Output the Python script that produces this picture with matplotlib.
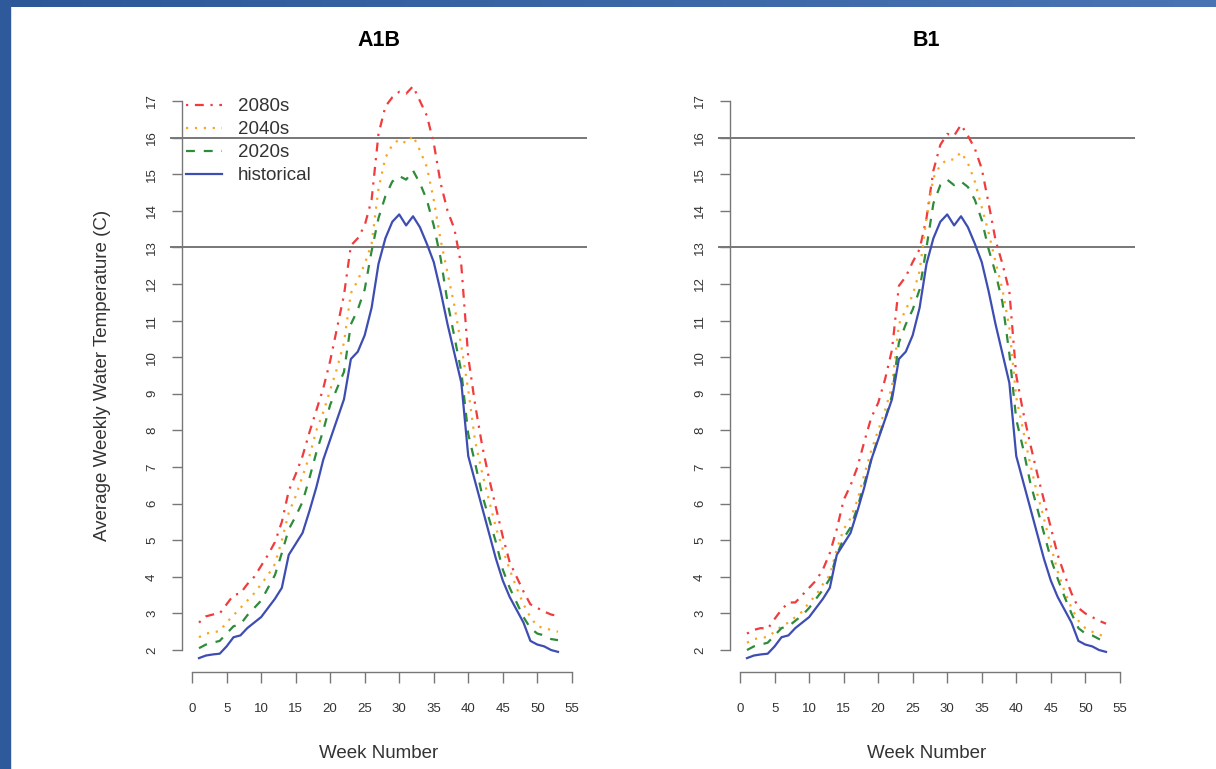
import matplotlib
matplotlib.use('Agg')
import matplotlib.pyplot as plt
from matplotlib.patches import Rectangle
import numpy as np

plt.rcParams['font.family'] = ['Liberation Sans', 'DejaVu Sans']

weeks = list(range(1, 54))

historical = [1.78, 1.85, 1.88, 1.9, 2.1, 2.35, 2.4, 2.6, 2.75, 2.9,
              3.15, 3.4, 3.7, 4.6, 4.9, 5.2, 5.8, 6.45, 7.2, 7.75,
              8.3, 8.85, 9.95, 10.15, 10.6, 11.35, 12.55, 13.25, 13.7, 13.9,
              13.6, 13.85, 13.55, 13.1, 12.6, 11.8, 10.9, 10.1, 9.3, 7.3,
              6.6, 5.9, 5.2, 4.5, 3.9, 3.45, 3.1, 2.75, 2.25, 2.15,
              2.1, 2.0, 1.95]

a1b_2020s = [2.05, 2.15, 2.2, 2.25, 2.45, 2.65, 2.7, 2.95, 3.15, 3.35,
             3.7, 4.05, 4.65, 5.3, 5.65, 6.05, 6.7, 7.4, 8.0, 8.7,
             9.15, 9.6, 10.9, 11.3, 11.85, 12.9, 13.8, 14.4, 14.8, 14.95,
             14.85, 15.1, 14.75, 14.3, 13.6, 12.7, 11.5, 10.55, 9.6, 7.9,
             7.1, 6.25, 5.6, 4.95, 4.2, 3.7, 3.3, 2.9, 2.6, 2.45,
             2.4, 2.3, 2.27]

a1b_2040s = [2.35, 2.45, 2.48, 2.52, 2.75, 2.95, 3.15, 3.35, 3.55, 3.8,
             4.05, 4.35, 5.0, 5.75, 6.2, 6.75, 7.3, 8.0, 8.5, 9.1,
             9.7, 10.4, 11.75, 12.1, 12.55, 13.1, 14.6, 15.45, 15.8, 15.95,
             15.85, 16.05, 15.65, 15.2, 14.3, 13.2, 12.3, 11.4, 10.3, 9.1,
             7.7, 6.85, 6.1, 5.35, 4.75, 4.2, 3.7, 3.25, 2.9, 2.65,
             2.6, 2.55, 2.5]

a1b_2080s = [2.75, 2.92, 2.97, 3.0, 3.25, 3.5, 3.55, 3.8, 4.0, 4.3,
             4.6, 4.95, 5.5, 6.35, 6.8, 7.3, 7.95, 8.55, 9.15, 9.9,
             10.8, 11.7, 13.05, 13.25, 13.6, 14.3, 16.1, 16.85, 17.1, 17.25,
             17.2, 17.4, 17.0, 16.6, 15.85, 14.75, 14.0, 13.5, 12.5, 10.0,
             8.7, 7.6, 6.7, 5.9, 5.1, 4.4, 4.0, 3.6, 3.25, 3.15,
             3.05, 2.97, 2.93]

b1_2020s = [2.0, 2.1, 2.15, 2.2, 2.4, 2.6, 2.65, 2.8, 2.95, 3.15,
            3.4, 3.65, 3.95, 4.6, 5.05, 5.35, 5.9, 6.55, 7.2, 7.8,
            8.3, 8.95, 10.4, 10.9, 11.3, 11.85, 13.0, 14.2, 14.7, 14.85,
            14.7, 14.8, 14.65, 14.3, 13.75, 12.95, 12.3, 11.5, 10.1, 8.3,
            7.5, 6.6, 5.9, 5.2, 4.5, 3.95, 3.45, 3.0, 2.6, 2.45,
            2.4, 2.3, 2.22]

b1_2040s = [2.2, 2.3, 2.33, 2.36, 2.5, 2.65, 2.75, 2.9, 3.05, 3.3,
            3.5, 3.8, 4.05, 4.75, 5.3, 5.6, 6.1, 6.8, 7.45, 8.0,
            8.55, 9.2, 10.9, 11.3, 11.7, 12.35, 13.8, 14.9, 15.25, 15.4,
            15.4, 15.6, 15.3, 14.8, 14.1, 13.4, 12.6, 11.85, 10.8, 8.9,
            8.0, 7.1, 6.3, 5.6, 4.85, 4.15, 3.6, 3.15, 2.8, 2.6,
            2.5, 2.42, 2.36]

b1_2080s = [2.45, 2.55, 2.6, 2.58, 2.85, 3.1, 3.3, 3.3, 3.5, 3.7,
            3.9, 4.2, 4.65, 5.3, 6.1, 6.5, 7.0, 7.7, 8.35, 8.75,
            9.4, 10.2, 11.95, 12.2, 12.6, 12.95, 13.8, 15.1, 15.8, 16.1,
            16.05, 16.35, 16.05, 15.7, 15.15, 14.2, 13.2, 12.55, 11.8, 9.5,
            8.5, 7.65, 6.85, 6.1, 5.35, 4.6, 4.05, 3.55, 3.15, 3.0,
            2.9, 2.8, 2.72]

thresholds = [13, 16]
x_ticks = list(range(0, 60, 5))
y_ticks = list(range(2, 18))

# label, colour, dash pattern (R lty 4, 3, 2, 1)
styles = [('2080s', '#f03c3c', (1, 3, 4, 3)),
          ('2040s', '#f7a623', (1, 3)),
          ('2020s', '#2e8b3a', (4, 4)),
          ('historical', '#3d4db2', None)]

W, H = 1216, 769
fig = plt.figure(figsize=(W / 100, H / 100), dpi=100)

# blue frame of the slide
grad = np.linspace(0, 1, 256).reshape(1, -1)
top = fig.add_axes([0, 1 - 7 / H, 1, 7 / H])
top.imshow(grad, aspect='auto', extent=(0, 1, 0, 1),
           cmap=matplotlib.colors.LinearSegmentedColormap.from_list('b', ['#2c5899', '#4a74b4']))
top.axis('off')
fig.add_artist(Rectangle((0, 0), 10 / W, 1, transform=fig.transFigure,
                         color='#2e5a9c', zorder=5))


def plot_panel(ax, title, series, legend=False):
    for (label, color, dash), values in zip(styles, series):
        line, = ax.plot(weeks, values, color=color, lw=1.6, label=label)
        if dash is not None:
            line.set_dashes(dash)
    for t in thresholds:
        ax.axhline(t, color='#606060', lw=1.2, zorder=0)

    ax.set_xlim(-3.2, 57.2)
    ax.set_ylim(1.4, 17.6)
    ax.set_xticks(x_ticks)
    ax.set_yticks(y_ticks)
    for s in ['top', 'right']:
        ax.spines[s].set_visible(False)
    ax.spines['left'].set_position(('data', -1.5))
    ax.spines['left'].set_bounds(2, 17)
    ax.spines['bottom'].set_bounds(0, 55)
    for s in ['left', 'bottom']:
        ax.spines[s].set_color('#777777')
        ax.spines[s].set_linewidth(1.0)
    ax.tick_params(axis='x', length=8, width=1, color='#777777', pad=14,
                   labelsize=9.5, labelcolor='#333333')
    ax.tick_params(axis='y', length=7, width=1, color='#777777', pad=10,
                   labelsize=9.5, labelcolor='#333333', labelrotation=90)
    for lab in ax.get_yticklabels():
        lab.set_verticalalignment('center')
    ax.set_title(title, fontsize=15.5, fontweight='bold', pad=24)
    ax.set_xlabel('Week Number', fontsize=13.5, color='#333333', labelpad=22)
    if legend:
        ax.legend(loc='upper left', bbox_to_anchor=(186 / W, 1 - 98 / H),
                  bbox_transform=fig.transFigure, frameon=False, fontsize=13.5,
                  handlelength=1.9, handletextpad=0.85, labelspacing=0.32,
                  borderpad=0, borderaxespad=0, labelcolor='#333333')


ax1 = fig.add_axes([170 / W, 97 / H, 417 / W, 593 / H])
ax2 = fig.add_axes([718 / W, 97 / H, 417 / W, 593 / H])

plot_panel(ax1, 'A1B', [a1b_2080s, a1b_2040s, a1b_2020s, historical], legend=True)
plot_panel(ax2, 'B1', [b1_2080s, b1_2040s, b1_2020s, historical])
ax1.set_ylabel('Average Weekly Water Temperature (C)', fontsize=13.5,
               color='#333333', labelpad=25)

fig.savefig('out.png', dpi=100, facecolor='white')
